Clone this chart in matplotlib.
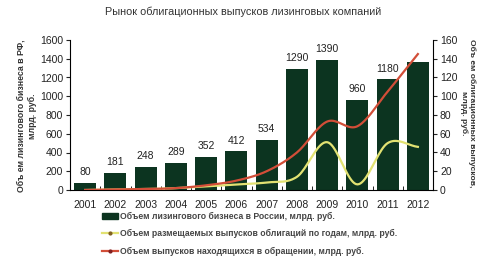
import matplotlib.pyplot as plt
import numpy as np

# data
years = ['2001', '2002', '2003', '2004', '2005', '2006', '2007', '2008', '2009', '2010', '2011', '2012']
leasing = [80, 181, 248, 289, 352, 412, 534, 1290, 1390, 960, 1180, 1360]
leasing_labels = ['80', '181', '248', '289', '352', '412', '534', '1290', '1390', '960', '1180', '']
placed = [0, 0.5, 1, 2, 4, 6, 8, 14, 51, 6, 50, 46]
outstanding = [0, 0.5, 1, 2, 5, 10, 20, 40, 73, 68, 105, 145]

NARROW = ['Liberation Sans Narrow', 'Liberation Sans', 'DejaVu Sans']
SANS = ['Liberation Sans', 'DejaVu Sans']
plt.rcParams['font.family'] = NARROW


def smooth(xs, ys, n=20):
    # Catmull-Rom curve through the points, like Excel's smoothed line
    xs = np.asarray(xs, float)
    ys = np.asarray(ys, float)
    px = np.concatenate([[2 * xs[0] - xs[1]], xs, [2 * xs[-1] - xs[-2]]])
    py = np.concatenate([[2 * ys[0] - ys[1]], ys, [2 * ys[-1] - ys[-2]]])
    ox, oy = [], []
    t = np.linspace(0, 1, n, endpoint=False)
    for i in range(1, len(px) - 2):
        for p, o in ((px, ox), (py, oy)):
            p0, p1, p2, p3 = p[i - 1], p[i], p[i + 1], p[i + 2]
            o.extend(0.5 * (2 * p1 + (-p0 + p2) * t + (2 * p0 - 5 * p1 + 4 * p2 - p3) * t ** 2
                            + (-p0 + 3 * p1 - 3 * p2 + p3) * t ** 3))
    ox.append(xs[-1])
    oy.append(ys[-1])
    return np.array(ox), np.array(oy)


fig = plt.figure(figsize=(4.8, 2.58), dpi=100)
ax = fig.add_axes([70 / 480, 1 - 190 / 258, 363 / 480, 150 / 258])
ax2 = ax.twinx()

x = np.arange(len(years))
ax.bar(x, leasing, width=0.72, color='#0c3420')
for xi, v, lab in zip(x, leasing, leasing_labels):
    ax.text(xi, v + 60, lab, ha='center', va='bottom', fontsize=7.5, color='#222222')

sx, sy = smooth(x, placed)
ax2.plot(sx, sy, color='#e2e272', lw=1.6)
sx, sy = smooth(x, outstanding)
ax2.plot(sx, sy, color='#d24e38', lw=1.6)

ax.set_xlim(-0.5, len(years) - 0.5)
ax.set_ylim(0, 1600)
ax2.set_ylim(0, 160)
ax.set_yticks(range(0, 1601, 200))
ax2.set_yticks(range(0, 161, 20))
ax.set_xticks(x)
ax.set_xticklabels(years)
ax.set_xticks(np.arange(-0.5, len(years), 1), minor=True)
ax.tick_params(axis='x', which='major', length=0, labelsize=7.5, pad=7, colors='#222222')
ax.tick_params(axis='x', which='minor', length=3, direction='in')
ax.tick_params(axis='y', labelsize=7.5, length=3, pad=2, colors='#222222')
ax2.tick_params(axis='y', labelsize=7.5, length=3, pad=2, colors='#222222')

for a in (ax, ax2):
    a.spines['top'].set_visible(False)
ax.spines['right'].set_visible(False)
ax2.spines['left'].set_visible(False)
ax2.spines['bottom'].set_visible(False)

fig.text(27 / 480, 1 - 116 / 258, 'Объ ем лизингового бизнеса в РФ,\nмлрд. руб.', rotation=90,
         ha='center', va='center', multialignment='center', fontsize=6.3, fontweight='bold',
         color='#333333', family=SANS, linespacing=1.3)
fig.text(468 / 480, 1 - 113 / 258, 'Объ ем облигационных выпусков,\nмлрд. руб.', rotation=-90,
         ha='center', va='center', multialignment='center', fontsize=6.1, fontweight='bold',
         color='#333333', family=SANS, linespacing=1.1)

fig.text(0.507, 0.953, 'Рынок облигационных выпусков лизинговых компаний', ha='center', va='center',
         fontsize=7.8, color='#333333', family=SANS)

h1 = plt.Rectangle((0, 0), 1, 1, color='#0c3420')
h2 = plt.Line2D([], [], color='#e2e272', lw=1.6, marker='o', ms=2, mfc='#806020', mec='#806020')
h3 = plt.Line2D([], [], color='#d24e38', lw=1.6, marker='o', ms=2, mfc='#802020', mec='#802020')
fig.legend([h1, h2, h3],
           ['Объем лизингового бизнеса в России, млрд. руб.',
            'Объем размещаемых выпусков облигаций по годам, млрд. руб.',
            'Объем выпусков находящихся в обращении, млрд. руб.'],
           loc='upper left', bbox_to_anchor=(102 / 480, 1 - 212 / 258), frameon=False,
           handlelength=1.9, handletextpad=0.2, labelspacing=0.95, handleheight=0.6,
           borderpad=0, borderaxespad=0, prop={'weight': 'bold', 'size': 6.2, 'family': SANS},
           labelcolor='#444444')

fig.savefig('out.png', dpi=100)
